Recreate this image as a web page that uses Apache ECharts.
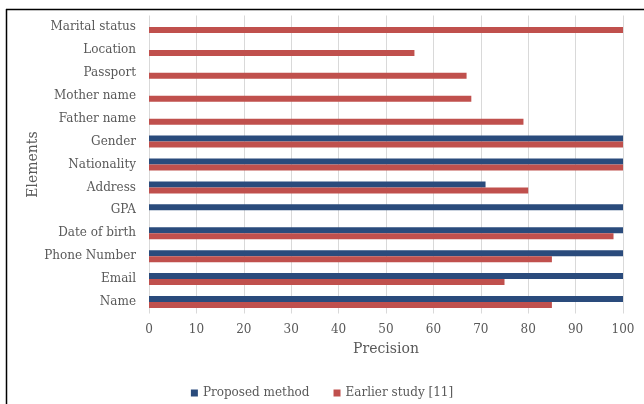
<!DOCTYPE html>
<html>
<head>
<meta charset="utf-8">
<script src="https://cdn.jsdelivr.net/npm/echarts@6/dist/echarts.min.js"></script>
<style>html,body{margin:0;padding:0;background:#fff}#c{width:644px;height:404px}</style>
</head>
<body>
<div id="c"></div>
<script>
var categories = ['Marital status','Location','Passport','Mother name','Father name','Gender','Nationality','Address','GPA','Date of birth','Phone Number','Email','Name'];
var proposed = [null,null,null,null,null,100,100,71,100,100,100,100,100];
var earlier = [100,56,67,68,79,100,100,80,null,98,85,75,85];
var xTicks = [0,10,20,30,40,50,60,70,80,90,100];
var seriesNames = ['Proposed method','Earlier study [11]'];

var font = 'DejaVu Serif';
var chart = echarts.init(document.getElementById('c'), null, {renderer:'canvas'});
chart.setOption({
  animation:false,
  backgroundColor:'#fff',
  graphic:[
    {type:'line', shape:{x1:6,y1:9.5,x2:644,y2:9.5}, style:{stroke:'#000',lineWidth:1.5}},
    {type:'line', shape:{x1:6.5,y1:9,x2:6.5,y2:404}, style:{stroke:'#000',lineWidth:1.5}}
  ],
  grid:{left:149,right:21,top:15.5,bottom:90.5,containLabel:false},
  legend:{
    data:seriesNames, bottom:0, left:'center', icon:'rect', itemWidth:7, itemHeight:7, itemGap:24,
    textStyle:{fontFamily:font,fontSize:12,color:'#595959'}
  },
  xAxis:{
    type:'value', min:0, max:100, interval:10,
    name:'Precision', nameLocation:'middle', nameGap:29,
    nameTextStyle:{fontFamily:font,fontSize:14,color:'#595959'},
    axisLine:{show:false}, axisTick:{show:false},
    axisLabel:{fontFamily:font,fontSize:12,color:'#595959',margin:10,
      formatter:function(v){return xTicks.indexOf(v)>=0?String(v):'';}},
    splitLine:{lineStyle:{color:'#d9d9d9',width:1}}
  },
  yAxis:{
    type:'category', data:categories, inverse:true,
    name:'Elements', nameLocation:'middle', nameGap:109, nameRotate:90, nameMoveOverlap:false,
    nameTextStyle:{fontFamily:font,fontSize:14,color:'#595959'},
    axisLine:{show:false}, axisTick:{show:false},
    axisLabel:{fontFamily:font,fontSize:12,color:'#595959',margin:13},
    splitLine:{show:false}
  },
  series:[
    {name:seriesNames[0], type:'bar', data:proposed, barWidth:6, barGap:'0%', itemStyle:{color:'#2A4B7C'}},
    {name:seriesNames[1], type:'bar', data:earlier, barWidth:6, barGap:'0%', itemStyle:{color:'#C0504D'}}
  ]
});
</script>
</body>
</html>
